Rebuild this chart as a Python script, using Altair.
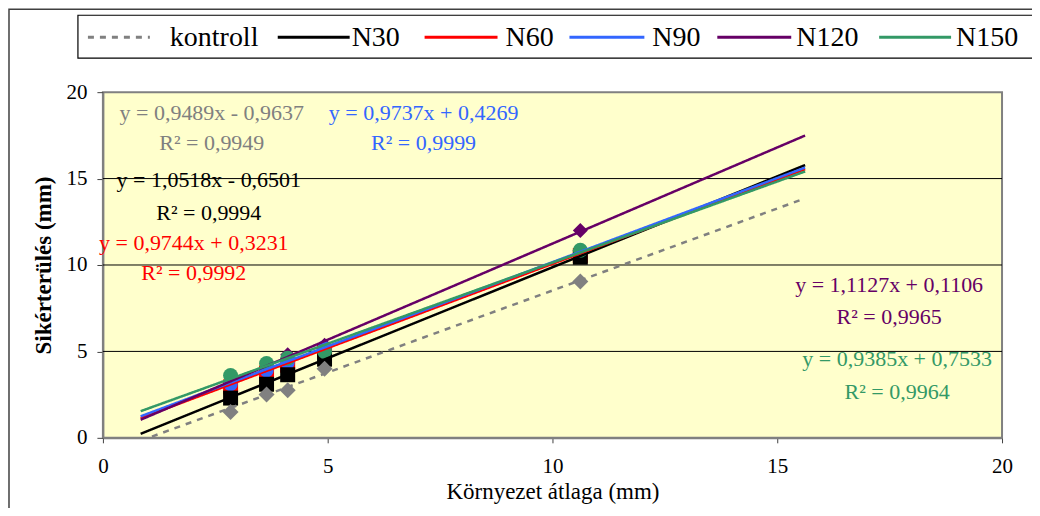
import altair as alt
import pandas as pd

# ---- data ----
series = ["kontroll", "N30", "N60", "N90", "N120", "N150"]
colors = ["#808080", "#000000", "#FF0000", "#3366FF", "#660066", "#339966"]
shapes = ["diamond", "square", "square", "circle", "diamond", "circle"]
x_vals = [2.84, 3.64, 4.11, 4.93, 10.62]
y_kontroll = [1.5, 2.5, 2.75, 4.0, 9.05]
y_n30 = [2.3, 3.1, 3.65, 4.55, 10.45]
y_n60 = [2.95, 3.75, 4.2, 5.0, 10.55]
y_n90 = [3.1, 3.9, 4.35, 5.2, 10.75]
y_n120 = [3.1, 4.0, 4.8, 5.35, 12.0]
y_n150 = [3.6, 4.3, 4.6, 5.0, 10.85]
slopes = [0.9489, 1.0518, 0.9744, 0.9737, 1.1127, 0.9385]
intercepts = [-0.9637, -0.6501, 0.3231, 0.4269, 0.1106, 0.7533]
r2_texts = ["0,9949", "0,9994", "0,9992", "0,9999", "0,9965", "0,9964"]
trend_x = [0.84, 15.62]
grid_y = [5, 10, 15]
ticks = [0, 5, 10, 15, 20]

FONT = "Liberation Serif"
y_series = [y_kontroll, y_n30, y_n60, y_n90, y_n120, y_n150]

# points (draw order bottom -> top)
draw_order = ["N120", "N60", "N90", "N30", "N150", "kontroll"]
sizes = {"kontroll": 256, "N30": 225, "N60": 225, "N90": 200, "N120": 225, "N150": 225}
rows = []
for name in draw_order:
    i = series.index(name)
    for xv, yv in zip(x_vals, y_series[i]):
        rows.append({"series": name, "x": xv, "y": yv, "col": colors[i],
                     "shp": shapes[i], "sz": sizes[name]})
pts_df = pd.DataFrame(rows)

line_rows = []
for i, name in enumerate(series):
    for xv in trend_x:
        line_rows.append({"series": name, "x": xv, "slope": slopes[i], "icpt": intercepts[i]})
line_df = pd.DataFrame(line_rows)

xscale = alt.Scale(domain=[0, 20], nice=False)
yscale = alt.Scale(domain=[0, 20], nice=False)

xaxis = alt.Axis(values=ticks, grid=False, domainColor="#808080", domainWidth=2,
                 tickColor="#404040", tickSize=5, labelFont=FONT, labelFontSize=21,
                 labelColor="black", labelPadding=13, labelFlush=False,
                 title="Környezet átlaga (mm)",
                 titleFont=FONT, titleFontSize=23, titleFontWeight="normal",
                 titleColor="black", titlePadding=4)
yaxis = alt.Axis(values=ticks, grid=False, domainColor="#808080", domainWidth=2,
                 tickColor="#404040", tickSize=6, labelFont=FONT, labelFontSize=21,
                 labelColor="black", labelPadding=10, labelFlush=False,
                 title="Sikérterülés (mm)",
                 titleFont=FONT, titleFontSize=23, titleFontWeight="bold",
                 titleColor="black", titlePadding=10)

one = pd.DataFrame({"a": [0]})

frame = alt.Chart(one).mark_rect(
    fill="transparent", stroke="#404040", strokeWidth=1.5
).encode(x=alt.value(-94), x2=alt.value(3000), y=alt.value(-83), y2=alt.value(3000))

grid = alt.Chart(pd.DataFrame({"g": grid_y})).mark_rule(color="black", strokeWidth=1).encode(
    y=alt.Y("g:Q", scale=yscale, axis=yaxis)
)

points = alt.Chart(pts_df).mark_point(filled=True, opacity=1).encode(
    x=alt.X("x:Q", scale=xscale, axis=xaxis),
    y=alt.Y("y:Q", scale=yscale, axis=yaxis),
    color=alt.Color("col:N", scale=None),
    shape=alt.Shape("shp:N", scale=None),
    size=alt.Size("sz:Q", scale=None),
)

dashes = [[6, 6], [1, 0], [1, 0], [1, 0], [1, 0], [1, 0]]
lines = alt.Chart(line_df).transform_calculate(
    yy="datum.slope * datum.x + datum.icpt"
).mark_line(strokeWidth=2.5, clip=True).encode(
    x=alt.X("x:Q", scale=xscale, axis=xaxis),
    y=alt.Y("yy:Q", scale=yscale, axis=yaxis),
    color=alt.Color("series:N", scale=alt.Scale(domain=series, range=colors), legend=None),
    strokeDash=alt.StrokeDash("series:N", scale=alt.Scale(domain=series, range=dashes),
                              legend=None),
)

# ---- hand-built legend (pixel layout relative to plot area) ----
legend_box = alt.Chart(one).mark_rect(
    fill="white", stroke="black", strokeWidth=1.2
).encode(x=alt.value(-25), x2=alt.value(935), y=alt.value(-77), y2=alt.value(-34))

leg_sym = {"kontroll": (-15, 47, 67), "N30": (175, 247, 249), "N60": (322, 395, 403),
           "N90": (467, 542, 550), "N120": (615, 689, 694), "N150": (777, 849, 854)}
legend_layers = [legend_box]
for i, name in enumerate(series):
    x1, x2, tx = leg_sym[name]
    legend_layers.append(alt.Chart(one).mark_rule(
        color=colors[i], strokeWidth=3, strokeDash=dashes[i] if i == 0 else [1, 0]
    ).encode(x=alt.value(x1), x2=alt.value(x2), y=alt.value(-55)))
    legend_layers.append(alt.Chart(pd.DataFrame({"t": [name]})).mark_text(
        font=FONT, fontSize=28, color="black", align="left", baseline="middle"
    ).encode(x=alt.value(tx), y=alt.value(-54), text="t:N"))

# equation label placement (pixels relative to the plot area)
label_pos = {
    "kontroll": (109, 21, 51),
    "N30": (106, 88, 121),
    "N60": (91, 151, 181),
    "N90": (321, 21, 51),
    "N120": (787, 193, 225),
    "N150": (795, 267, 300),
}

def eq_text(s, b):
    sign = "+" if b >= 0 else "-"
    return f"y = {s:.4f}x {sign} {abs(b):.4f}".replace(".", ",")

texts = []
for i, name in enumerate(series):
    px, py1, py2 = label_pos[name]
    tdf = pd.DataFrame({"t": [eq_text(slopes[i], intercepts[i]), "R² = " + r2_texts[i]],
                        "k": [0, 1]})
    base = alt.Chart(tdf).mark_text(font=FONT, fontSize=22, color=colors[i],
                                    align="center", baseline="middle")
    texts.append(base.transform_filter("datum.k == 0").encode(
        x=alt.value(px), y=alt.value(py1), text="t:N"))
    texts.append(base.transform_filter("datum.k == 1").encode(
        x=alt.value(px), y=alt.value(py2), text="t:N"))

chart = alt.layer(frame, grid, points, lines, *texts, *legend_layers).properties(
    width=900, height=346,
    padding={"left": 95, "top": 84, "right": 30, "bottom": 70},
    autosize=alt.AutoSizeParams(type="none"),
).configure_view(
    fill="#FFFFCC", stroke="#808080", strokeWidth=2
)

chart.save("out.html", embed_options={"renderer": "svg", "actions": False})
